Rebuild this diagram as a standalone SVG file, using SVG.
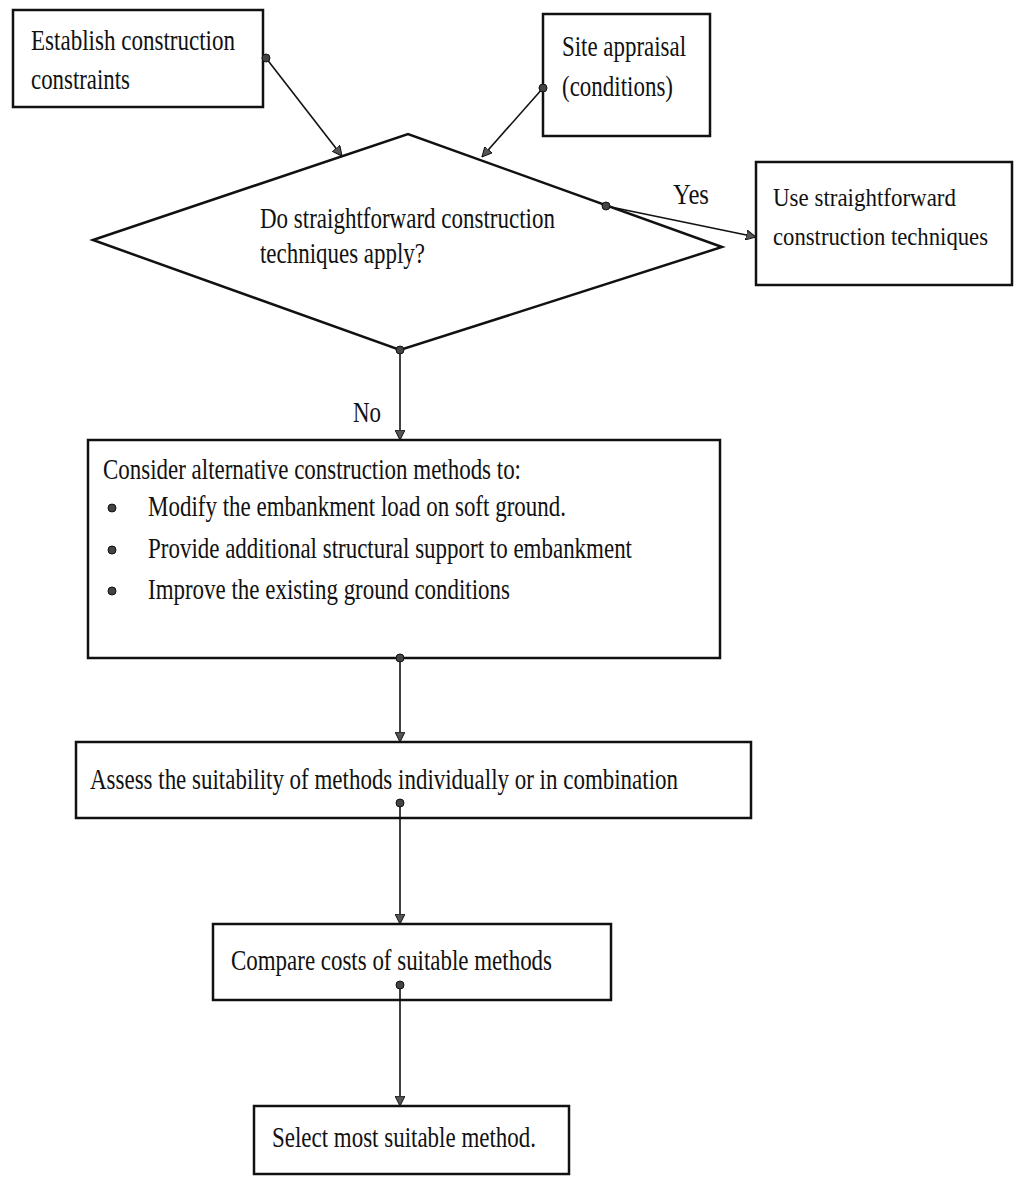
<svg xmlns="http://www.w3.org/2000/svg" width="1021" height="1180" viewBox="0 0 1021 1180">
<defs>
<marker id="arr" viewBox="0 0 10 10" refX="10" refY="5" markerWidth="10" markerHeight="10" markerUnits="userSpaceOnUse" orient="auto">
<path d="M0,0 L10,5 L0,10 Z" fill="#555" stroke="#111" stroke-width="1"/>
</marker>
</defs>
<style>
.box{fill:#fff;stroke:#111;stroke-width:2.5}
.t{font-family:"Liberation Serif","Times New Roman",serif;font-size:29px;fill:#111}
.s{font-size:25px}
.c{fill:none;stroke:#111;stroke-width:1.6;marker-end:url(#arr)}
.dot{fill:#444;stroke:#111;stroke-width:1}
</style>
<rect width="1021" height="1180" fill="#fff"/>
<g id="n1">
<rect class="box" x="13" y="10" width="250" height="97"/>
<text class="t" x="31" y="50" textLength="204" lengthAdjust="spacingAndGlyphs">Establish construction</text>
<text class="t" x="31" y="89" textLength="99" lengthAdjust="spacingAndGlyphs">constraints</text>
</g>
<g id="n2">
<rect class="box" x="543" y="14" width="167" height="122"/>
<text class="t" x="562" y="56" textLength="124" lengthAdjust="spacingAndGlyphs">Site appraisal</text>
<text class="t" x="562" y="96" textLength="111" lengthAdjust="spacingAndGlyphs">(conditions)</text>
</g>
<g id="n3">
<polygon class="box" points="93,240 408,134 722,247 400,350"/>
<text class="t" x="260" y="228" textLength="295" lengthAdjust="spacingAndGlyphs">Do straightforward construction</text>
<text class="t" x="260" y="263" textLength="165" lengthAdjust="spacingAndGlyphs">techniques apply?</text>
</g>
<g id="n4">
<rect class="box" x="756" y="162" width="256" height="123"/>
<text class="t s" x="773" y="206" textLength="183" lengthAdjust="spacingAndGlyphs">Use straightforward</text>
<text class="t s" x="773" y="245" textLength="215" lengthAdjust="spacingAndGlyphs">construction techniques</text>
</g>
<g id="n5">
<rect class="box" x="88" y="440" width="632" height="218"/>
<text class="t" x="103" y="479" textLength="418" lengthAdjust="spacingAndGlyphs">Consider alternative construction methods to:</text>
<circle class="dot" cx="112" cy="508" r="4"/>
<text class="t" x="148" y="516" textLength="418" lengthAdjust="spacingAndGlyphs">Modify the embankment load on soft ground.</text>
<circle class="dot" cx="112" cy="550" r="4"/>
<text class="t" x="148" y="558" textLength="484" lengthAdjust="spacingAndGlyphs">Provide additional structural support to embankment</text>
<circle class="dot" cx="112" cy="591" r="4"/>
<text class="t" x="148" y="599" textLength="362" lengthAdjust="spacingAndGlyphs">Improve the existing ground conditions</text>
</g>
<g id="n6">
<rect class="box" x="76" y="742" width="675" height="76"/>
<text class="t" x="90" y="789" textLength="588" lengthAdjust="spacingAndGlyphs">Assess the suitability of methods individually or in combination</text>
</g>
<g id="n7">
<rect class="box" x="213" y="924" width="398" height="76"/>
<text class="t" x="231" y="970" textLength="321" lengthAdjust="spacingAndGlyphs">Compare costs of suitable methods</text>
</g>
<g id="n8">
<rect class="box" x="254" y="1106" width="315" height="68"/>
<text class="t" x="272" y="1147" textLength="264" lengthAdjust="spacingAndGlyphs">Select most suitable method.</text>
</g>
<g id="connectors">
<line class="c" x1="266" y1="58" x2="342" y2="156"/>
<line class="c" x1="543" y1="88" x2="482" y2="157"/>
<line class="c" x1="606" y1="206" x2="756" y2="237"/>
<line class="c" x1="400" y1="350" x2="400" y2="440"/>
<line class="c" x1="400" y1="658" x2="400" y2="742"/>
<line class="c" x1="400" y1="803" x2="400" y2="924"/>
<line class="c" x1="400" y1="985" x2="400" y2="1106"/>
<circle class="dot" cx="266" cy="58" r="4"/>
<circle class="dot" cx="543" cy="88" r="4"/>
<circle class="dot" cx="606" cy="206" r="4"/>
<circle class="dot" cx="400" cy="350" r="4"/>
<circle class="dot" cx="400" cy="658" r="4"/>
<circle class="dot" cx="400" cy="803" r="4"/>
<circle class="dot" cx="400" cy="985" r="4"/>
<text class="t" x="673" y="204" textLength="36" lengthAdjust="spacingAndGlyphs">Yes</text>
<text class="t" x="353" y="422" textLength="28" lengthAdjust="spacingAndGlyphs">No</text>
</g>
</svg>
